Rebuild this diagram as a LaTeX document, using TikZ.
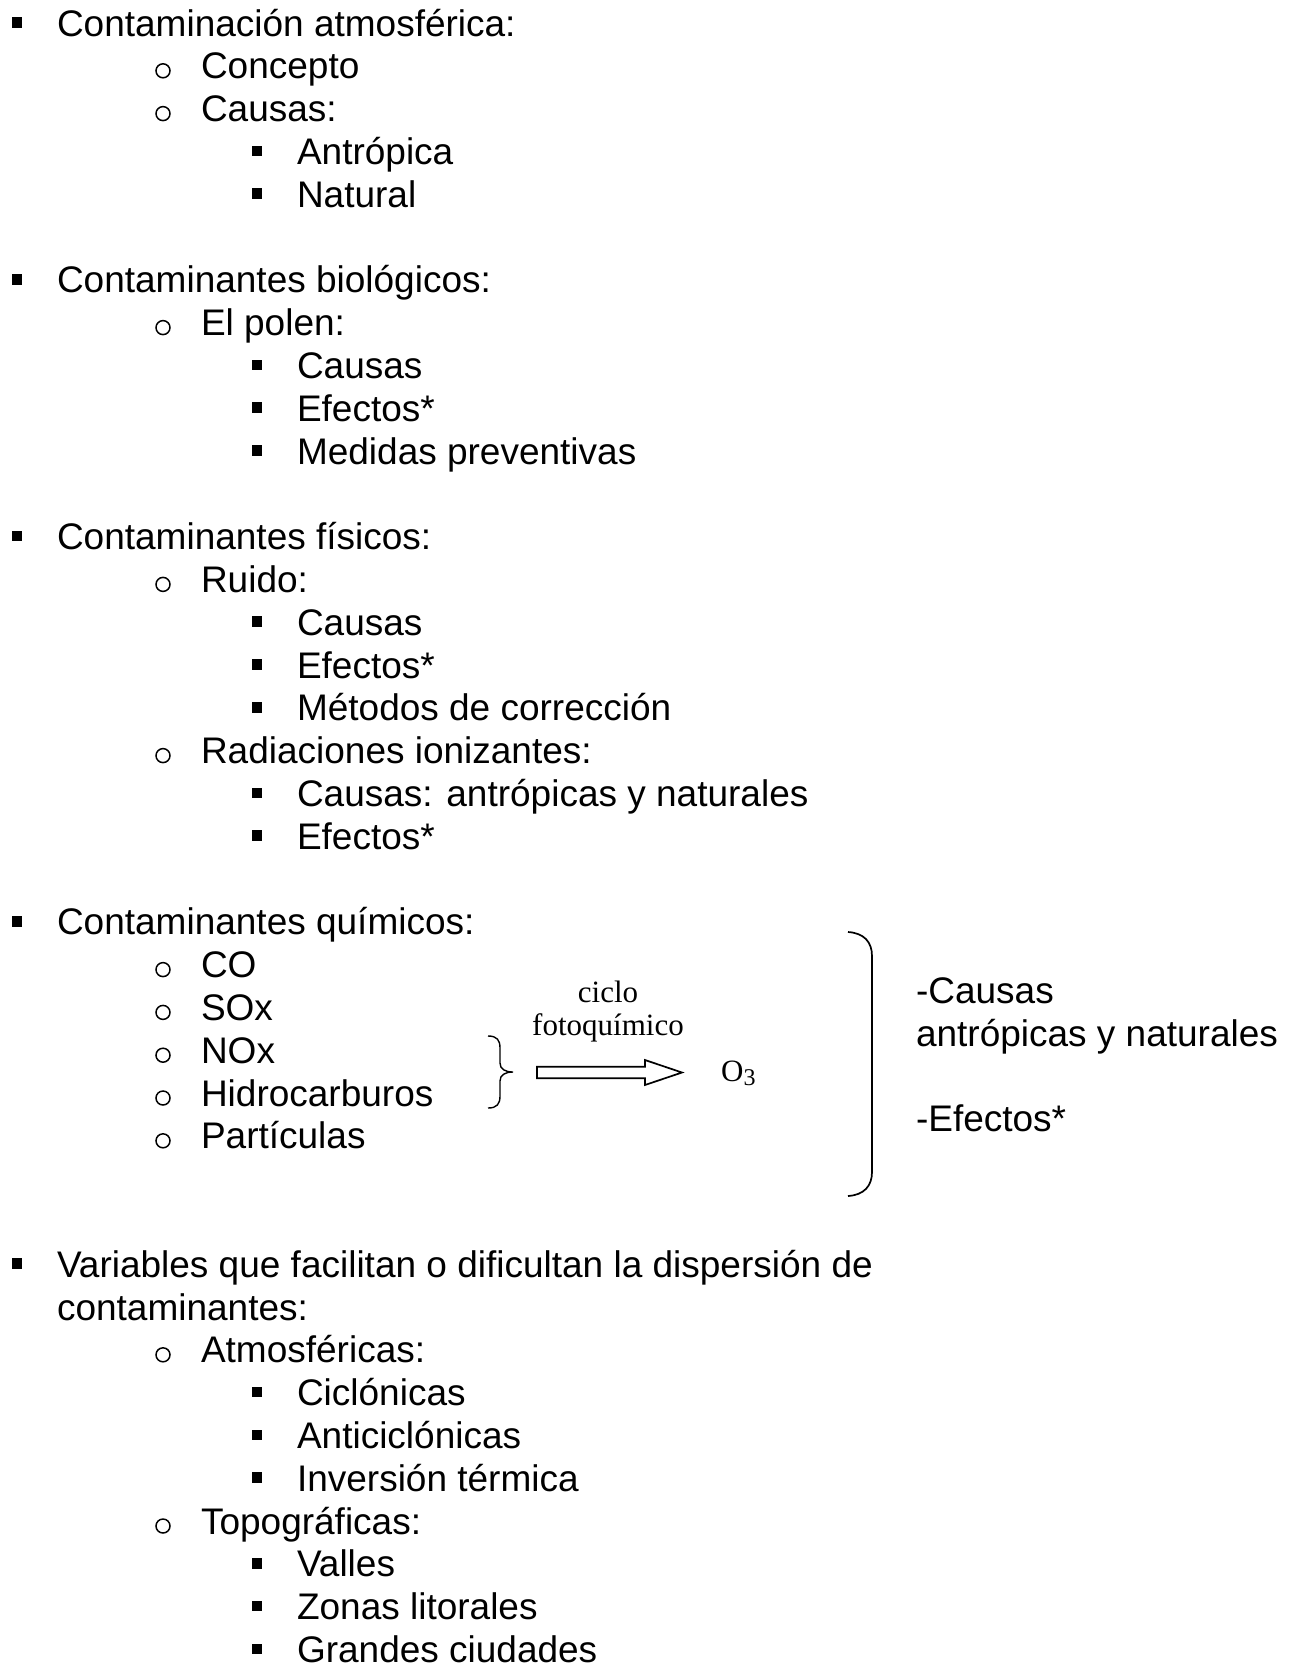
\documentclass[tikz,border=0pt]{standalone}
\usepackage{fontspec}
\setmainfont{Liberation Sans}
\newfontfamily\timesf{Liberation Serif}
\newcommand\ListA[3]{\node[sqmark] (#1m) at (17,{22.5+42.8*#2}) {};\node[txt] (#1) at (57,{36+42.8*#2}) {#3};}
\newcommand\ListB[3]{\node[cimark] (#1m) at (163,{28+42.8*#2}) {};\node[txt] (#1) at (201,{36+42.8*#2}) {#3};}
\newcommand\ListC[3]{\node[sqmark] (#1m) at (257,{22.5+42.8*#2}) {};\node[txt] (#1) at (297,{36+42.8*#2}) {#3};}
\begin{document}
\begin{tikzpicture}[x=1pt,y=-1pt,
  txt/.style={anchor=base west,inner sep=0pt,outer sep=0pt,font=\fontsize{37}{42.8}\selectfont},
  sqmark/.style={rectangle,fill=black,minimum size=10.5pt,inner sep=0pt},
  cimark/.style={circle,draw=black,line width=1.5pt,minimum size=14pt,inner sep=0pt},
  serif/.style={anchor=base,inner sep=0pt,font=\timesf\fontsize{31}{33}\selectfont},
  stroke/.style={line width=1.7pt}]
\fill[white] (0,0) rectangle (1299,1668);
\useasboundingbox (0,0) rectangle (1299,1668);
\ListA{a0}{0}{Contaminación atmosférica:}
\ListB{a1}{1}{Concepto}
\ListB{a2}{2}{Causas:}
\ListC{a3}{3}{Antrópica}
\ListC{a4}{4}{Natural}
\ListA{b0}{6}{Contaminantes biológicos:}
\ListB{b1}{7}{El polen:}
\ListC{b2}{8}{Causas}
\ListC{b3}{9}{Efectos*}
\ListC{b4}{10}{Medidas preventivas}
\ListA{c0}{12}{Contaminantes físicos:}
\ListB{c1}{13}{Ruido:}
\ListC{c2}{14}{Causas}
\ListC{c3}{15}{Efectos*}
\ListC{c4}{16}{Métodos de corrección}
\ListB{c5}{17}{Radiaciones ionizantes:}
\ListC{c6}{18}{Causas: antrópicas y naturales}
\ListC{c7}{19}{Efectos*}
\ListA{d0}{21}{Contaminantes químicos:}
\ListB{d1}{22}{CO}
\ListB{d2}{23}{SOx}
\ListB{d3}{24}{NOx}
\ListB{d4}{25}{Hidrocarburos}
\ListB{d5}{26}{Partículas}
\ListA{e0}{29}{Variables que facilitan o dificultan la dispersión de}
\node[txt] (e0b) at (57,{36+42.8*30}) {contaminantes:};
\ListB{e1}{31}{Atmosféricas:}
\ListC{e2}{32}{Ciclónicas}
\ListC{e3}{33}{Anticiclónicas}
\ListC{e4}{34}{Inversión térmica}
\ListB{e5}{35}{Topográficas:}
\ListC{e6}{36}{Valles}
\ListC{e7}{37}{Zonas litorales}
\ListC{e8}{38}{Grandes ciudades}
% chemistry
\node[serif] (ciclo) at (608,1002) {ciclo};
\node[serif] (foto) at (608,1035) {fotoquímico};
\node[anchor=base west,inner sep=0pt,font=\timesf\fontsize{31}{31}\selectfont] (ozone) at (721,1081) {O\raisebox{-4.5pt}{\fontsize{24}{24}\selectfont 3}};
\coordinate (brT) at (488,1036);
\coordinate (brTip) at (513,1072);
\coordinate (brB) at (488,1108);
\draw[line width=1.4pt] (brT) .. controls (497,1036) and (500,1040) .. (500,1048) -- (500,1063) .. controls (500,1069) and (505,1072) .. (brTip) .. controls (505,1072) and (500,1075) .. (500,1081) -- (500,1096) .. controls (500,1104) and (497,1108) .. (brB);
\coordinate (arS) at (537,1072.5);
\coordinate (arE) at (682,1072.5);
\draw[stroke,line join=miter] (arS) ++(0,-5.8) -- ++(108,0) -- ++(0,-6.7) -- (arE) -- ++(-37,12.5) -- ++(0,-6.7) -- ++(-108,0) -- cycle;
\coordinate (bkT) at (848,932);
\coordinate (bkB) at (848,1196);
\draw[stroke] (bkT) .. controls (864,933) and (872,942) .. (872,956) -- (872,1172) .. controls (872,1186) and (864,1195) .. (bkB);
\node[txt] (rc1) at (916,1003) {-Causas};
\node[txt] (rc2) at (916,1046) {antrópicas y naturales};
\node[txt] (rc3) at (916,1131) {-Efectos*};
\end{tikzpicture}
\end{document}
